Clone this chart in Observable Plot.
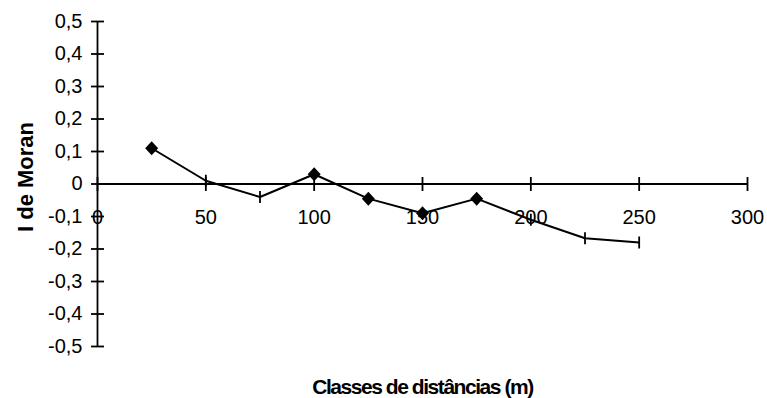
<!DOCTYPE html>
<html>
<head>
<meta charset="utf-8">
<script src="https://cdn.jsdelivr.net/npm/d3@7"></script>
<script src="https://cdn.jsdelivr.net/npm/@observablehq/plot@0.6"></script>
<style>
  html, body { margin: 0; padding: 0; background: #fff; }
  svg { display: block; }
</style>
</head>
<body>
<div id="chart"></div>
<script>
const distances = [25, 50, 75, 100, 125, 150, 175, 200, 225, 250];
const moranI = [0.11, 0.01, -0.04, 0.03, -0.045, -0.09, -0.045, -0.11, -0.167, -0.18];
const significant = [true, false, false, true, true, true, true, false, false, false];
const xTicks = [0, 50, 100, 150, 200, 250, 300];
const yTicks = [-0.5, -0.4, -0.3, -0.2, -0.1, 0, 0.1, 0.2, 0.3, 0.4, 0.5];
const xTitle = "Classes de distâncias (m)";
const yTitle = "I de Moran";

const data = distances.map((d, i) => ({x: d, y: moranI[i], sig: significant[i]}));

const hTick = {draw(ctx) { ctx.moveTo(-6.5, 0); ctx.lineTo(6.5, 0); }};
const vTick = {draw(ctx) { ctx.moveTo(0, -7); ctx.lineTo(0, 7); }};
const vMark = {draw(ctx) { ctx.moveTo(0, -6); ctx.lineTo(0, 6); }};
const diamond = {draw(ctx) { ctx.moveTo(0, -7); ctx.lineTo(6.5, 0); ctx.lineTo(0, 7); ctx.lineTo(-6.5, 0); ctx.closePath(); }};

const fmt = v => v === 0 ? "0" : d3.format(".1f")(v).replace(".", ",").replace("−", "-");
const font = "'Liberation Sans', Arial, sans-serif";

const chart = Plot.plot({
  width: 767,
  height: 398,
  marginLeft: 97,
  marginRight: 20,
  marginTop: 21,
  marginBottom: 52,
  style: {fontFamily: font, background: "#fff"},
  x: {domain: [0, 300], axis: null},
  y: {domain: [-0.5, 0.5], axis: null},
  marks: [
    Plot.ruleX([0], {y1: -0.5, y2: 0.5, stroke: "black", strokeWidth: 1.8}),
    Plot.ruleY([0], {x1: 0, x2: 300, stroke: "black", strokeWidth: 1.8}),
    Plot.dot(yTicks, {x: 0, y: d => d, symbol: hTick, stroke: "black", fill: "none", strokeWidth: 1.8}),
    Plot.dot(xTicks, {x: d => d, y: 0, symbol: vTick, stroke: "black", fill: "none", strokeWidth: 1.8}),
    Plot.text(yTicks, {x: 0, y: d => d, text: fmt, dx: -15, textAnchor: "end", fontSize: 20, fill: "black"}),
    Plot.text(xTicks, {x: d => d, y: 0, text: d => String(d), dy: 34, fontSize: 20, fill: "black"}),
    Plot.line(data, {x: "x", y: "y", stroke: "black", strokeWidth: 2}),
    Plot.dot(data.filter(d => !d.sig), {x: "x", y: "y", symbol: vMark, stroke: "black", fill: "none", strokeWidth: 1.8}),
    Plot.dot(data.filter(d => d.sig), {x: "x", y: "y", symbol: diamond, fill: "black", stroke: "none"}),
    Plot.text([xTitle], {frameAnchor: "bottom", lineAnchor: "middle", textAnchor: "middle", text: d => d, dy: 41, fontSize: 21, fontWeight: "bold", fill: "black"}),
    Plot.text([yTitle], {frameAnchor: "left", lineAnchor: "middle", textAnchor: "middle", text: d => d, dx: -72, dy: -7, rotate: -90, fontSize: 22, fontWeight: "bold", fill: "black"})
  ]
});
d3.select(chart).selectAll("text").filter(function() { return this.textContent === xTitle; })
  .attr("letter-spacing", "-1.45px");
document.getElementById("chart").appendChild(chart);
</script>
</body>
</html>
